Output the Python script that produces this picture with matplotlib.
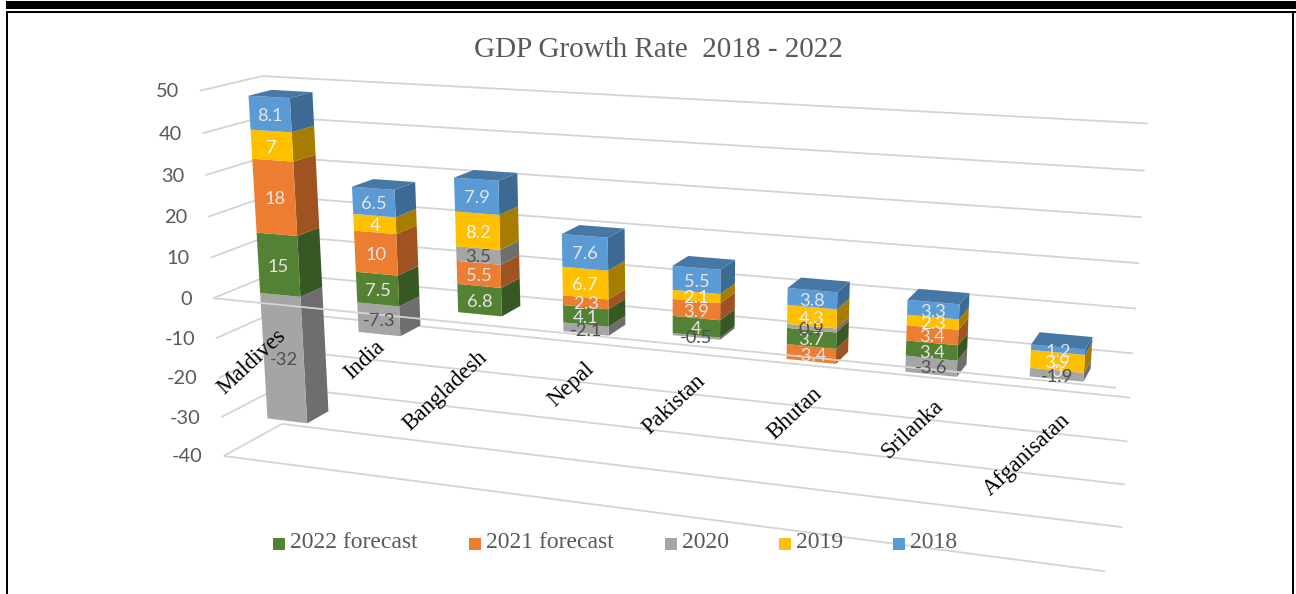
import numpy as np
import matplotlib
matplotlib.use("Agg")
import matplotlib.pyplot as plt
from matplotlib.patches import Polygon, Rectangle

# Chart data: stacked growth rates per country, bottom of the stack first
countries = ["Maldives", "India", "Bangladesh", "Nepal", "Pakistan", "Bhutan", "Srilanka", "Afganisatan"]
growth_2022 = [15, 7.5, 6.8, 4.1, 4, 3.7, 3.4, 0]
growth_2021 = [18, 10, 5.5, 2.3, 3.9, -3.4, 3.4, 0]
growth_2020 = [-32, -7.3, 3.5, -2.1, -0.5, 0.9, -3.6, -1.9]
growth_2019 = [7, 4, 8.2, 6.7, 2.1, 4.3, 2.3, 3.9]
growth_2018 = [8.1, 6.5, 7.9, 7.6, 5.5, 3.8, 3.3, 1.2]
series_names = ["2022 forecast", "2021 forecast", "2020", "2019", "2018"]
value_ticks = [50, 40, 30, 20, 10, 0, -10, -20, -30, -40]

series_values = [growth_2022, growth_2021, growth_2020, growth_2019, growth_2018]
front_colors = ["#548235", "#ED7D31", "#A5A5A5", "#FFC000", "#5B9BD5"]
side_colors = ["#375723", "#9E5320", "#6E6E6E", "#A67D00", "#3D6A92"]
top_colors = ["#466F2C", "#C46829", "#898989", "#D4A000", "#4678A6"]
label_colors = ["#E4E4E4", "#E4E4E4", "#505050", "#F4F4F4", "#E4E4E4"]

# Perspective camera for the 3D plot box: (category, value, depth) -> canvas pixel
box_corners = np.array([
    (0, 50, 0, 200, 91), (0, 0, 0, 213, 298), (0, -40, 0, 224, 456),
    (0, 50, 1, 262, 76), (0, -40, 1, 282, 424),
    (8, 50, 1, 1148, 124), (8, 0, 1, 1133, 353), (8, -40, 1, 1122, 527),
    (8, 0, 0, 1116, 387), (8, -40, 0, 1105, 572),
], dtype=float)


def fit_camera(corners):
    rows, rhs = [], []
    for x, y, z, u, v in corners:
        rows.append([x, y, z, 1, 0, 0, 0, 0, -u * x, -u * y, -u * z])
        rhs.append(u)
        rows.append([0, 0, 0, 0, x, y, z, 1, -v * x, -v * y, -v * z])
        rhs.append(v)
    p = np.linalg.lstsq(np.array(rows), np.array(rhs), rcond=None)[0]
    return np.append(p, 1.0).reshape(3, 4)


CAMERA = fit_camera(box_corners)


def project(x, y, z):
    u, v, w = CAMERA @ np.array([x, y, z, 1.0])
    return u / w, v / w


plt.rcParams["font.family"] = ["Liberation Serif", "DejaVu Serif"]
fig = plt.figure(figsize=(12.96, 5.94), dpi=100)
ax = fig.add_axes([0, 0, 1, 1])
ax.set_xlim(0, 1296)
ax.set_ylim(594, 0)
ax.axis("off")

# Page frame around the chart
for rect in [(6, 1, 1290, 8), (6, 11, 1290, 2.4), (6, 11, 2.4, 583), (1292, 11, 2.4, 583)]:
    ax.add_patch(Rectangle(rect[:2], rect[2], rect[3], fc="black", ec="none", zorder=1))

GRID = "#D4D4D4"
GRID_LW = 1.3
n = len(countries)


def grid_line(a, b, zorder=2):
    p, q = project(*a), project(*b)
    ax.plot([p[0], q[0]], [p[1], q[1]], color=GRID, lw=GRID_LW, zorder=zorder, solid_capstyle="butt")


# Wall gridlines and floor edge
for tick in value_ticks:
    grid_line((0, tick, 0), (0, tick, 1))
    grid_line((0, tick, 1), (n, tick, 1))
grid_line((0, -40, 0), (n, -40, 0))

# Value axis labels beside the front edge of the side wall
for tick in value_ticks:
    u, v = project(0, tick, 0)
    ax.text(u - 21, v + 1, str(tick), ha="right", va="center", family="Lato", fontsize=14.4,
            color="#595959", zorder=3)

# Bars
BAR_X0, BAR_X1 = 0.29, 0.71
BAR_Z0, BAR_Z1 = 0.31, 0.69


def face(points, color, zorder):
    ax.add_patch(Polygon([project(*p) for p in points], closed=True, fc=color, ec="none", zorder=zorder))


for i in range(n):
    x0, x1 = i + BAR_X0, i + BAR_X1
    pos, neg = 0.0, 0.0
    segments = []
    for s, vals in enumerate(series_values):
        val = vals[i]
        if val >= 0:
            segments.append((s, pos, pos + val, val))
            pos += val
        else:
            segments.append((s, neg + val, neg, val))
            neg += val
    zo = 4 + i * 0.01
    for s, lo, hi, val in sorted(segments, key=lambda t: t[1]):
        if hi > lo:
            face([(x1, lo, BAR_Z0), (x1, lo, BAR_Z1), (x1, hi, BAR_Z1), (x1, hi, BAR_Z0)], side_colors[s], zo)
            face([(x0, lo, BAR_Z0), (x1, lo, BAR_Z0), (x1, hi, BAR_Z0), (x0, hi, BAR_Z0)], front_colors[s], zo)
    top_series = max((t for t in segments if t[2] > t[1]), key=lambda t: t[2])
    s, _, hi, _ = top_series
    face([(x0, hi, BAR_Z0), (x1, hi, BAR_Z0), (x1, hi, BAR_Z1), (x0, hi, BAR_Z1)], top_colors[s], zo)

# Zero plane front edge runs over the bars
grid_line((0, 0, 0), (n, 0, 0), zorder=5)

# Data labels at the middle of each front face
for i in range(n):
    pos, neg = 0.0, 0.0
    for s, vals in enumerate(series_values):
        val = vals[i]
        if val >= 0:
            lo, hi = pos, pos + val
            pos += val
        else:
            lo, hi = neg + val, neg
            neg += val
        u, v = project(i + 0.5, (lo + hi) / 2, BAR_Z0)
        ax.text(u, v + 2, f"{val:g}", ha="center", va="center", family="Lato", fontsize=13.2,
                color=label_colors[s], zorder=6)

# Country names, slanted under the bars
for i, name in enumerate(countries):
    u, v = project(i + 0.5, -10, 0)
    ax.text(u + 12, v - 18, name, rotation=43, rotation_mode="anchor", ha="right", va="top",
            fontsize=16.5, color="black", zorder=7)

ax.text(658, 50, "GDP Growth Rate  2018 - 2022", ha="center", va="center", fontsize=21,
        color="#595959", zorder=7)

# Legend
legend_swatch_x = [273, 469, 665, 779, 893]
for name, color, sx in zip(series_names, front_colors, legend_swatch_x):
    ax.add_patch(Rectangle((sx, 537.5), 12, 12, fc=color, ec="none", zorder=7))
    ax.text(sx + 17, 542, name, ha="left", va="center", fontsize=17, color="#595959", zorder=7)

fig.savefig("out.png", dpi=100)
